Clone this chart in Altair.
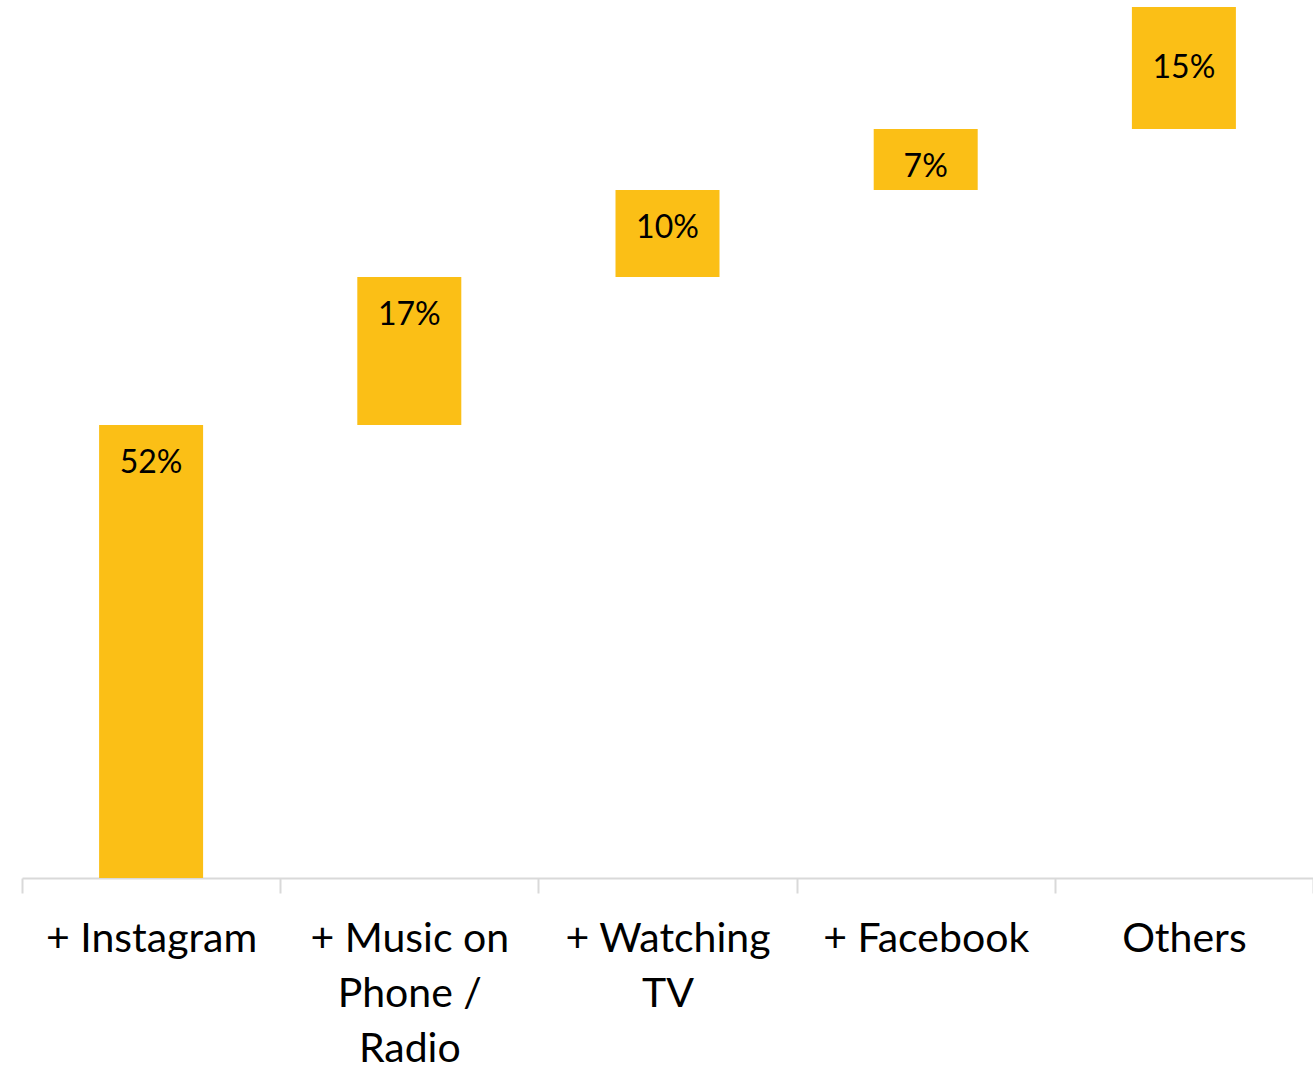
import altair as alt
import pandas as pd

categories = ["+ Instagram", "+ Music on\nPhone /\nRadio", "+ Watching\nTV", "+ Facebook", "Others"]
starts = [0, 52, 69, 79, 86]
ends = [52, 69, 79, 86, 100]
labels = ["52%", "17%", "10%", "7%", "15%"]
is_total = [False, False, False, False, True]

df = pd.DataFrame({"cat": categories, "start": starts, "end": ends, "label": labels, "total": is_total})

FONT = "Lato"
COLOR = "#FBBF16"

x = alt.X("cat:N", sort=categories, title=None,
          scale=alt.Scale(paddingInner=0, paddingOuter=0),
          axis=alt.Axis(labelExpr="split(datum.label, '\\n')", labelAngle=0,
                        labelFont=FONT, labelFontSize=41, labelColor="#000000",
                        labelLineHeight=55, labelPadding=26, labelBaseline="top",
                        labelLimit=400,
                        tickBand="extent", tickSize=15, tickColor="#d9d9d9", tickWidth=2,
                        domainColor="#d9d9d9", domainWidth=2, grid=False))

y_scale = alt.Scale(domain=[0, 100.8], nice=False, zero=True)

bars = alt.Chart(df).mark_bar(color=COLOR, width=104).encode(
    x=x,
    y=alt.Y("start:Q", scale=y_scale, axis=None),
    y2="end:Q",
)

text_steps = alt.Chart(df).transform_filter("!datum.total").mark_text(
    font=FONT, fontSize=32, color="#000000", baseline="middle", dy=38).encode(
    x=alt.X("cat:N", sort=categories),
    y=alt.Y("end:Q", scale=y_scale),
    text="label:N",
)

text_total = alt.Chart(df).transform_filter("datum.total").transform_calculate(
    mid="(datum.start + datum.end) / 2").mark_text(
    font=FONT, fontSize=32, color="#000000", baseline="middle").encode(
    x=alt.X("cat:N", sort=categories),
    y=alt.Y("mid:Q", scale=y_scale),
    text="label:N",
)

chart = alt.layer(bars, text_steps, text_total).properties(
    width=1291, height=878,
    autosize=alt.AutoSizeParams(type="none"),
    padding={"left": 22, "top": 0, "right": 0, "bottom": 189},
).configure(background="white").configure_view(stroke=None)

chart.save("out.html", embed_options={"renderer": "svg", "actions": False})
